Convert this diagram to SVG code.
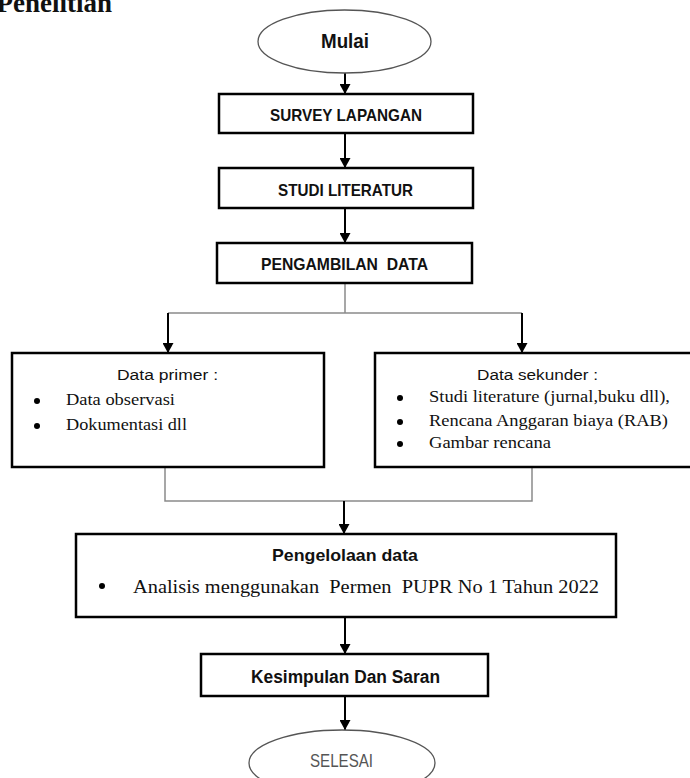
<svg xmlns="http://www.w3.org/2000/svg" width="690" height="778" viewBox="0 0 690 778">
<style>
.box{fill:#fff;stroke:#000;stroke-width:2.5}
.oval{fill:#fff;stroke:#555;stroke-width:1.3}
.sans{font-family:"Liberation Sans","Open Sans",sans-serif;fill:#111}
.b{font-weight:bold}
.serif{font-family:"Liberation Serif","Times New Roman",serif;fill:#111}
.arr{stroke:#000;stroke-width:2;fill:none;marker-end:url(#ah)}
.gray{stroke:#8a8a8a;stroke-width:1.5;fill:none}
</style>
<defs>
<marker id="ah" markerUnits="userSpaceOnUse" markerWidth="11" markerHeight="11" refX="10" refY="5.5" orient="auto">
<path d="M0,0 L10,5.5 L0,11 z" fill="#000"/>
</marker>
</defs>
<rect width="690" height="778" fill="#fff"/>
<text x="112" y="12" text-anchor="end" font-family="Liberation Serif,serif" font-weight="bold" font-size="27" fill="#111">Penelitian</text>

<g id="connectors">
<line class="arr" x1="345" y1="73" x2="345" y2="94"/>
<line class="arr" x1="345" y1="133" x2="345" y2="168"/>
<line class="arr" x1="345" y1="208" x2="345" y2="243"/>
<polyline class="gray" points="345,283 345,313"/>
<polyline class="gray" points="168,313 522,313"/>
<line class="arr" x1="168" y1="313" x2="168" y2="353"/>
<line class="arr" x1="522" y1="313" x2="522" y2="353"/>
<polyline class="gray" points="165,467 165,501 532,501 532,467"/>
<line class="arr" x1="344" y1="501" x2="344" y2="534"/>
<line class="arr" x1="345" y1="617" x2="345" y2="654"/>
<line class="arr" x1="345" y1="696" x2="345" y2="730"/>
</g>

<g id="mulai">
<ellipse class="oval" cx="344.5" cy="41.5" rx="86.5" ry="31.5"/>
<text class="sans b" x="345" y="48" font-size="19.5" text-anchor="middle" textLength="48" lengthAdjust="spacingAndGlyphs">Mulai</text>
</g>

<g id="survey">
<rect class="box" x="219" y="94" width="254" height="39"/>
<text class="sans b" x="346" y="121" font-size="16.5" text-anchor="middle" textLength="152" lengthAdjust="spacingAndGlyphs">SURVEY LAPANGAN</text>
</g>

<g id="studi">
<rect class="box" x="219" y="168" width="254" height="40"/>
<text class="sans b" x="345.5" y="196" font-size="16.5" text-anchor="middle" textLength="135" lengthAdjust="spacingAndGlyphs">STUDI LITERATUR</text>
</g>

<g id="pengambilan">
<rect class="box" x="217" y="243" width="255" height="40"/>
<text class="sans b" x="344.5" y="270" font-size="16.5" text-anchor="middle" textLength="167" lengthAdjust="spacingAndGlyphs" xml:space="preserve">PENGAMBILAN  DATA</text>
</g>

<g id="data-primer">
<rect class="box" x="12" y="353" width="312" height="114"/>
<text class="sans" x="167.5" y="380" font-size="15.5" text-anchor="middle" textLength="101" lengthAdjust="spacingAndGlyphs">Data primer :</text>
<circle cx="37" cy="401" r="3"/>
<circle cx="37" cy="426" r="3"/>
<text class="serif" x="66" y="405" font-size="16" textLength="109" lengthAdjust="spacingAndGlyphs">Data observasi</text>
<text class="serif" x="66" y="430" font-size="16" textLength="121" lengthAdjust="spacingAndGlyphs">Dokumentasi dll</text>
</g>

<g id="data-sekunder">
<rect class="box" x="375" y="353" width="325" height="114"/>
<text class="sans" x="537.5" y="380" font-size="15.5" text-anchor="middle" textLength="121" lengthAdjust="spacingAndGlyphs">Data sekunder :</text>
<circle cx="400" cy="398" r="3"/>
<circle cx="400" cy="422" r="3"/>
<circle cx="400" cy="444" r="3"/>
<text class="serif" x="429" y="402" font-size="16.5" textLength="241" lengthAdjust="spacingAndGlyphs">Studi literature (jurnal,buku dll),</text>
<text class="serif" x="429" y="426" font-size="16.5" textLength="239" lengthAdjust="spacingAndGlyphs">Rencana Anggaran biaya (RAB)</text>
<text class="serif" x="429" y="448" font-size="16.5" textLength="122" lengthAdjust="spacingAndGlyphs">Gambar rencana</text>
</g>

<g id="pengelolaan">
<rect class="box" x="76" y="534" width="540" height="83"/>
<text class="sans b" x="345" y="561" font-size="16.5" text-anchor="middle" textLength="146" lengthAdjust="spacingAndGlyphs">Pengelolaan data</text>
<circle cx="102" cy="586" r="3"/>
<text class="serif" x="133" y="593" font-size="19" textLength="466" lengthAdjust="spacingAndGlyphs" xml:space="preserve">Analisis menggunakan  Permen  PUPR No 1 Tahun 2022</text>
</g>

<g id="kesimpulan">
<rect class="box" x="201" y="654" width="287" height="42"/>
<text class="sans b" x="345.5" y="683" font-size="17.5" text-anchor="middle" textLength="189" lengthAdjust="spacingAndGlyphs">Kesimpulan Dan Saran</text>
</g>

<g id="selesai">
<ellipse class="oval" cx="342" cy="763" rx="93" ry="33"/>
<text class="sans" x="341.5" y="767" font-size="18" text-anchor="middle" style="fill:#555" textLength="63" lengthAdjust="spacingAndGlyphs">SELESAI</text>
</g>
</svg>
